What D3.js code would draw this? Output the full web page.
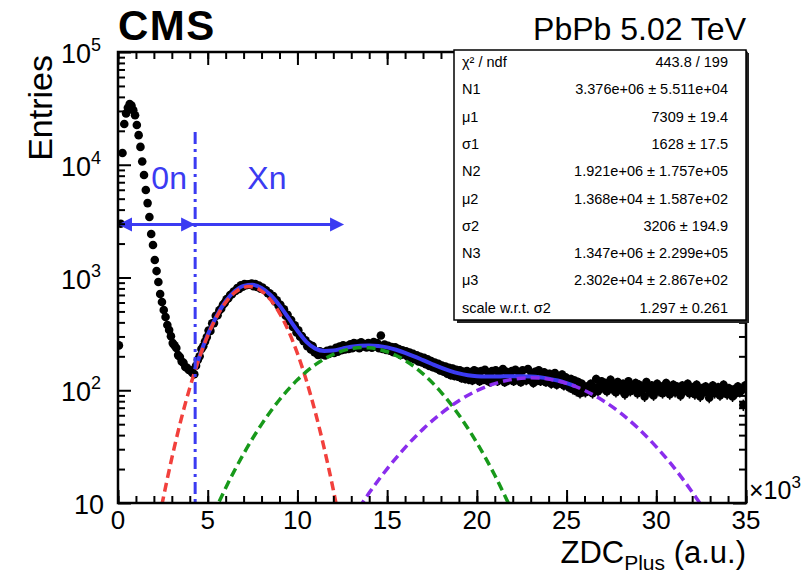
<!DOCTYPE html>
<html>
<head>
<meta charset="utf-8">
<script src="https://cdn.jsdelivr.net/npm/d3@7"></script>
<style>
  body { margin: 0; background: #fff; }
  svg { font-family: "Liberation Sans", Arial, Helvetica, sans-serif; }
</style>
</head>
<body>
<svg id="chart" width="809" height="577"></svg>
<script>
// ZDC Plus spectrum, x in units of 10^3 (a.u.), bins of 0.1
var binWidth = 0.1;
var entries = [
  250, 3000, 12700, 23000, 28500, 32000, 34500, 33500, 30500, 27500,
  22500, 18300, 14400, 10700, 8100, 5970, 4570, 3440, 2430, 1940,
  1430, 1140, 912, 714, 607, 515, 447, 379, 342, 302,
  262, 250, 237, 205, 197, 180, 175, 161, 158, 151,
  150, 142, 139, 165, 186, 200, 232, 246, 270, 296,
  338, 336, 392, 394, 458, 462, 512, 528, 574, 596,
  640, 654, 700, 712, 752, 760, 806, 790, 852, 830,
  876, 856, 870, 864, 884, 836, 876, 826, 848, 796,
  816, 776, 770, 726, 724, 680, 686, 612, 628, 562,
  574, 510, 522, 458, 468, 410, 420, 364, 376, 326,
  340, 298, 302, 272, 278, 246, 256, 230, 246, 218,
  214, 206, 222, 208, 216, 204, 224, 210, 228, 218,
  214, 238, 220, 244, 226, 250, 230, 246, 232, 256,
  236, 262, 242, 258, 236, 266, 244, 256, 240, 262,
  256, 238, 268, 244, 262, 236, 306, 232, 254, 228,
  248, 224, 242, 218, 240, 214, 232, 206, 226, 208,
  222, 198, 216, 192, 210, 188, 204, 180, 198, 176,
  194, 170, 188, 164, 182, 160, 176, 156, 172, 150,
  166, 146, 162, 140, 158, 136, 156, 134, 152, 132,
  150, 128, 146, 126, 148, 124, 144, 122, 150, 126,
  146, 120, 148, 124, 152, 122, 142, 118, 148, 124,
  150, 120, 144, 126, 154, 118, 146, 122, 140, 148,
  120, 152, 124, 144, 118, 150, 126, 122, 154, 124,
  142, 116, 146, 122, 150, 120, 140, 144, 118, 138,
  140, 114, 134, 142, 112, 132, 116, 138, 110, 130,
  124, 106, 126, 102, 122, 98, 118, 94, 114, 98,
  96, 108, 100, 114, 94, 106, 126, 98, 110, 120,
  104, 116, 98, 110, 124, 102, 112, 96, 118, 106,
  100, 114, 92, 108, 120, 98, 110, 104, 116, 94,
  112, 100, 106, 88, 118, 102, 96, 110, 90, 104,
  114, 98, 108, 94, 104, 116, 100, 92, 106, 112,
  96, 108, 102, 90, 110, 98, 104, 114, 94, 100,
  106, 92, 112, 98, 88, 104, 96, 108, 100, 86,
  102, 110, 94, 98, 106, 90, 100, 112, 96, 92,
  104, 98, 88, 102, 94, 108, 96, 100, 74, 110
];

// total fit (solid blue)
var fitX = [4.3, 4.5, 5, 5.5, 6, 6.5, 7, 7.5, 8, 8.5, 9, 9.5, 10, 10.5, 11, 11.5, 12, 12.5, 13, 13.5,
  14, 14.5, 15, 15.5, 16, 16.5, 17, 17.5, 18, 18.5, 19, 19.5, 20, 20.5, 21, 21.5, 22, 22.5, 23, 23.5,
  24, 24.5, 25, 25.5];
var fitY = [153, 191, 310, 457, 615, 754, 842, 861, 808, 700, 566, 438, 337, 269, 234, 223, 225, 234, 243, 248,
  250, 247, 240, 228.5, 215, 200, 185, 171, 158.6, 148.6, 141, 136, 133.3, 132.3, 132.2, 132.9, 133.4, 133.4, 132.5, 130.3,
  126.8, 121.9, 115.7, 108.3];

// components (dashed)
var gaus1X = [2, 2.5, 3, 3.5, 4, 4.5, 5, 5.5, 6, 6.5, 7, 7.3, 7.5, 8, 8.5, 9, 9.5, 10, 10.5, 11, 11.5, 12, 12.5];
var gaus1Y = [4.1, 10.6, 25, 53.8, 105, 187, 304, 448, 601, 734, 815, 830, 824, 758, 635, 484, 336, 212, 122, 63.5, 30.2, 13.1, 5.1];
var gaus2X = [5, 5.5, 6, 7, 8, 9, 10, 11, 12, 13, 13.7, 14, 15, 16, 17, 18, 19, 20, 21, 22, 22.5];
var gaus2Y = [6.1, 9.2, 13.6, 27.3, 49.8, 82.4, 123.7, 168.5, 208, 233.7, 239, 237.8, 219.6, 184, 139.8, 96.4, 60.3, 34.2, 17.6, 8.2, 5.4];
var gaus3X = [13, 13.5, 14, 15, 16, 17, 18, 19, 20, 21, 22, 23, 24, 25, 26, 27, 28, 29, 30, 31, 32, 32.5, 33];
var gaus3Y = [7.1, 9.4, 12.3, 20.1, 31, 45.2, 62.2, 80.8, 99.1, 114.6, 125.2, 129, 125.5, 115.2, 99.8, 81.6, 63, 45.9, 31.5, 20.5, 12.5, 9.6, 7.3];

var xTicks = [0, 5, 10, 15, 20, 25, 30, 35];
var yTicks = [10, 100, 1000, 10000, 100000];
var yTickExp = ["", "2", "3", "4", "5"];

var statNames = ["\u03c7\u00b2 / ndf", "N1", "\u03bc1", "\u03c31", "N2", "\u03bc2", "\u03c32", "N3", "\u03bc3", "scale w.r.t. \u03c32"];
var statValues = ["443.8 / 199", "3.376e+06 \u00b1 5.511e+04", "7309 \u00b1 19.4", "1628 \u00b1 17.5",
  "1.921e+06 \u00b1 1.757e+05", "1.368e+04 \u00b1 1.587e+02", "3206 \u00b1 194.9",
  "1.347e+06 \u00b1 2.299e+05", "2.302e+04 \u00b1 2.867e+02", "1.297 \u00b1 0.261"];

var threshold = 4.3;      // 0n / Xn boundary
var xnArrowEnd = 12.6;
var arrowLevel = 2950;

var margin = {top: 52, right: 63, bottom: 74, left: 118};
var width = 809 - margin.left - margin.right;
var height = 577 - margin.top - margin.bottom;
var blue = "#3b3bf2";

var svg = d3.select("#chart");
var g = svg.append("g")
  .attr("transform", "translate(" + margin.left + "," + margin.top + ")");

var x = d3.scaleLinear().domain([0, 35]).range([0, width]);
var y = d3.scaleLog().domain([10, 1e5]).range([height, 0]);

g.append("clipPath").attr("id", "plotclip")
  .append("rect").attr("width", width).attr("height", height);

var plot = g.append("g").attr("clip-path", "url(#plotclip)");

var points = entries.map(function(v, i) { return {x: (i + 0.5) * binWidth, y: v}; });

// error bars + markers
plot.selectAll(".err")
  .data(points)
  .enter().append("line")
  .attr("x1", function(d) { return x(d.x); })
  .attr("x2", function(d) { return x(d.x); })
  .attr("y1", function(d) { return y(d.y + Math.sqrt(d.y)); })
  .attr("y2", function(d) { return y(Math.max(d.y - Math.sqrt(d.y), 10)); })
  .attr("stroke", "#000")
  .attr("stroke-width", 1.5);

plot.selectAll(".dot")
  .data(points)
  .enter().append("circle")
  .attr("cx", function(d) { return x(d.x); })
  .attr("cy", function(d) { return y(d.y); })
  .attr("r", 4.3)
  .attr("fill", "#000");

var line = d3.line()
  .x(function(d) { return x(d[0]); })
  .y(function(d) { return y(d[1]); })
  .curve(d3.curveMonotoneX);

plot.append("path")
  .datum(d3.zip(fitX, fitY))
  .attr("d", line)
  .attr("fill", "none")
  .attr("stroke", blue)
  .attr("stroke-width", 4);

var comps = [
  {xs: gaus1X, ys: gaus1Y, color: "#f2403c"},
  {xs: gaus2X, ys: gaus2Y, color: "#17991a"},
  {xs: gaus3X, ys: gaus3Y, color: "#8a2ded"}
];
comps.forEach(function(c) {
  plot.append("path")
    .datum(d3.zip(c.xs, c.ys))
    .attr("d", line)
    .attr("fill", "none")
    .attr("stroke", c.color)
    .attr("stroke-width", 3.5)
    .attr("stroke-dasharray", "9,5");
});

// 0n / Xn boundary
g.append("line")
  .attr("x1", x(threshold)).attr("x2", x(threshold))
  .attr("y1", y(19500)).attr("y2", y(10))
  .attr("stroke", blue)
  .attr("stroke-width", 3)
  .attr("stroke-dasharray", "12,5,3,5");

function arrowHead(xTip, yTip, dir) {
  var l = 14, w = 7;
  g.append("path")
    .attr("d", "M" + xTip + "," + yTip + "L" + (xTip - dir * l) + "," + (yTip - w) +
      "L" + (xTip - dir * l) + "," + (yTip + w) + "Z")
    .attr("fill", blue);
}
var ay = y(arrowLevel);
g.append("line").attr("x1", x(0) + 6).attr("x2", x(xnArrowEnd) - 6)
  .attr("y1", ay).attr("y2", ay)
  .attr("stroke", blue).attr("stroke-width", 3);
arrowHead(x(0), ay, -1);
arrowHead(x(threshold), ay, 1);
arrowHead(x(xnArrowEnd), ay, 1);

g.append("text").attr("x", x(2.85)).attr("y", y(arrowLevel) - 36)
  .attr("text-anchor", "middle").attr("font-size", 32).attr("fill", blue).text("0n");
g.append("text").attr("x", x(8.3)).attr("y", y(arrowLevel) - 36)
  .attr("text-anchor", "middle").attr("font-size", 32).attr("fill", blue).text("Xn");

// axes, ticks pointing inward on all four sides
var yMinor = [];
[10, 100, 1000, 10000].forEach(function(d) {
  for (var k = 2; k <= 9; k++) yMinor.push(d * k);
});
var xMinor = d3.range(0, 36, 1);

function addAxis(axis, tx, ty) {
  var a = g.append("g").attr("transform", "translate(" + tx + "," + ty + ")").call(axis);
  a.select(".domain").remove();
  a.selectAll("line").attr("stroke", "#000").attr("stroke-width", 2);
  a.selectAll("text").remove();
}
addAxis(d3.axisBottom(x).tickValues(xTicks).tickSize(-13), 0, height);
addAxis(d3.axisBottom(x).tickValues(xMinor).tickSize(-7), 0, height);
addAxis(d3.axisTop(x).tickValues(xTicks).tickSize(-13), 0, 0);
addAxis(d3.axisTop(x).tickValues(xMinor).tickSize(-7), 0, 0);
addAxis(d3.axisLeft(y).tickValues(yTicks).tickSize(-13), 0, 0);
addAxis(d3.axisLeft(y).tickValues(yMinor).tickSize(-7), 0, 0);
addAxis(d3.axisRight(y).tickValues(yTicks).tickSize(-13), width, 0);
addAxis(d3.axisRight(y).tickValues(yMinor).tickSize(-7), width, 0);

g.append("rect")
  .attr("width", width).attr("height", height)
  .attr("fill", "none").attr("stroke", "#000").attr("stroke-width", 2.5);

// tick labels
g.selectAll(".xlab")
  .data(xTicks)
  .enter().append("text")
  .attr("x", function(d) { return x(d); })
  .attr("y", height + 26)
  .attr("text-anchor", "middle")
  .attr("font-size", 26)
  .text(function(d) { return d; });

var ylab = g.selectAll(".ylab")
  .data(yTicks)
  .enter().append("text")
  .attr("x", function(d, i) { return i === 0 ? -14 : -17; })
  .attr("y", function(d) { return y(d) + 11; })
  .attr("text-anchor", "end")
  .attr("font-size", 27);
ylab.append("tspan").text("10");
ylab.append("tspan")
  .attr("dy", -12)
  .attr("font-size", 18)
  .text(function(d, i) { return yTickExp[i]; });

var mult = g.append("text").attr("x", width + 3).attr("y", height - 4).attr("font-size", 25);
mult.append("tspan").text("\u00d710");
mult.append("tspan").attr("dy", -11).attr("font-size", 17).text("3");

// axis titles
var xt = g.append("text")
  .attr("x", width).attr("y", height + 60)
  .attr("text-anchor", "end").attr("font-size", 31);
xt.append("tspan").text("ZDC");
xt.append("tspan").attr("dy", 7).attr("font-size", 21).text("Plus");
xt.append("tspan").attr("dy", -7).text(" (a.u.)");

g.append("text")
  .attr("transform", "translate(-66,3) rotate(-90)")
  .attr("text-anchor", "end")
  .attr("font-size", 34)
  .text("Entries");

g.append("text").attr("x", 0).attr("y", -12)
  .attr("font-size", 42).attr("font-weight", "bold").attr("letter-spacing", 1.5)
  .text("CMS");
g.append("text").attr("x", width).attr("y", -12)
  .attr("text-anchor", "end").attr("font-size", 32)
  .text("PbPb 5.02 TeV");

// fit statistics box
var box = {x: 336, y: -2, w: 292, h: 270};
g.append("rect").attr("x", box.x + 3).attr("y", box.y + 3)
  .attr("width", box.w).attr("height", box.h).attr("fill", "#222");
g.append("rect").attr("x", box.x).attr("y", box.y)
  .attr("width", box.w).attr("height", box.h)
  .attr("fill", "#fff").attr("stroke", "#000").attr("stroke-width", 1.5);

var rowH = 27.3;
g.selectAll(".sname")
  .data(statNames)
  .enter().append("text")
  .attr("x", box.x + 8)
  .attr("y", function(d, i) { return box.y + 17 + i * rowH; })
  .attr("font-size", 14.5)
  .text(function(d) { return d; });
g.selectAll(".sval")
  .data(statValues)
  .enter().append("text")
  .attr("x", box.x + box.w - 18)
  .attr("y", function(d, i) { return box.y + 17 + i * rowH; })
  .attr("text-anchor", "end")
  .attr("font-size", 14.5)
  .text(function(d) { return d; });
</script>
</body>
</html>
